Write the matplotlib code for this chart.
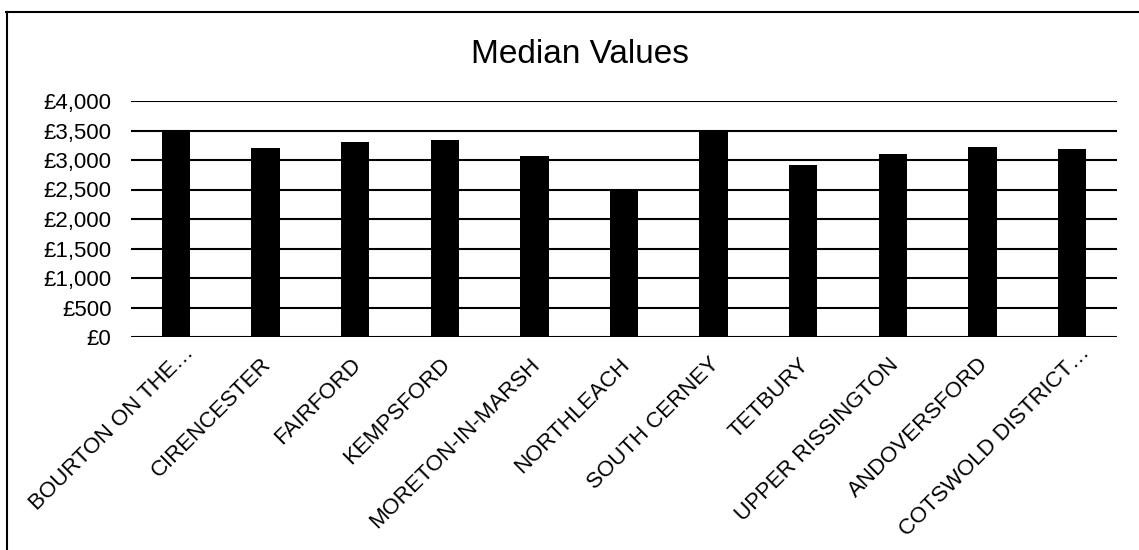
import matplotlib
matplotlib.use("Agg")
import matplotlib.pyplot as plt
from matplotlib.ticker import FuncFormatter, MultipleLocator
from matplotlib.lines import Line2D
from matplotlib.transforms import ScaledTranslation, blended_transform_factory

categories = ["BOURTON ON THE\u2026", "CIRENCESTER", "FAIRFORD", "KEMPSFORD",
              "MORETON-IN-MARSH", "NORTHLEACH", "SOUTH CERNEY", "TETBURY",
              "UPPER RISSINGTON", "ANDOVERSFORD", "COTSWOLD DISTRICT\u2026"]
values = [3510, 3210, 3300, 3340, 3060, 2500, 3500, 2910, 3110, 3220, 3180]
title = "Median Values"

plt.rcParams['font.family'] = ['Liberation Sans', 'DejaVu Sans']

W, H = 1139, 550
fig = plt.figure(figsize=(W / 100, H / 100), dpi=100)
ax = fig.add_axes([131 / W, 1 - 337 / H, (1117 - 131) / W, (337 - 101) / H])

x = list(range(len(categories)))
ax.bar(x, values, width=0.316, color='black', zorder=3)
ax.set_xlim(-0.5, len(categories) - 0.5)
ax.set_ylim(0, 4000)
ax.yaxis.set_major_locator(MultipleLocator(500))
ax.yaxis.set_major_formatter(FuncFormatter(lambda v, p: "\u00a3{:,.0f}".format(v)))
ax.grid(axis='y', color='black', linewidth=1.5, zorder=0)
ax.set_axisbelow(True)
for s in ax.spines.values():
    s.set_visible(False)
ax.tick_params(axis='both', length=0, labelsize=16, colors='black')
ax.tick_params(axis='y', pad=14)
ax.set_xticks(x)
ax.set_xticklabels([''] * len(categories))

# category labels, rotated 45 degrees (truncated ones overhang with the ellipsis)
renderer = fig.canvas.get_renderer()
tmp = fig.text(0, 0, "\u2026", fontsize=16)
ew = tmp.get_window_extent(renderer).width
tmp.remove()
base = blended_transform_factory(ax.transData, ax.transAxes)
for i, lab in enumerate(categories):
    dx, dy = -5.0, -17.0
    if lab.endswith("\u2026"):
        dx += ew * 0.55
        dy += ew * 0.55
    tr = base + ScaledTranslation(dx / 100, dy / 100, fig.dpi_scale_trans)
    ax.text(i, 0, lab, transform=tr, rotation=45, ha='right', va='top',
            rotation_mode='anchor', fontsize=16, color='black')

fig.text(580 / W, 1 - 63.3 / H, title, ha='center', va='baseline', fontsize=24)

fig.add_artist(Line2D([6 / W, 1.0], [1 - 12 / H, 1 - 12 / H], color='black', linewidth=1.5,
                      transform=fig.transFigure))
fig.add_artist(Line2D([7 / W, 7 / W], [0, 1 - 12 / H], color='black', linewidth=1.5,
                      transform=fig.transFigure))

fig.savefig("out.png", dpi=100)
